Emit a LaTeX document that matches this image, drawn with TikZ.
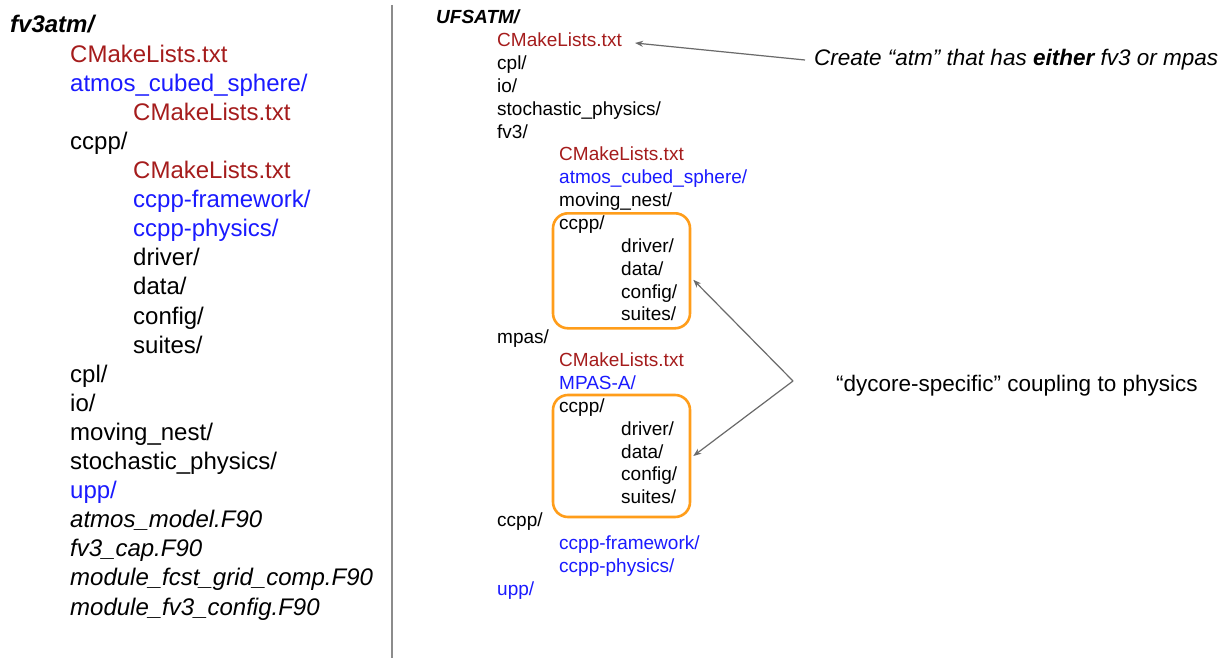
\documentclass[tikz,border=0pt]{standalone}
\usepackage{fontspec}
\setmainfont{Liberation Sans}
\usetikzlibrary{arrows.meta}
\definecolor{dred}{HTML}{A51C1C}
\definecolor{fblue}{HTML}{1A1AFF}
\definecolor{orng}{HTML}{FF9D1A}
\definecolor{arrgray}{HTML}{6A6A6A}
\definecolor{sepgray}{HTML}{8C8C8C}
\begin{document}
\begin{tikzpicture}[x=1pt,y=-1pt,
  big/.style={anchor=base west, inner sep=0pt, font=\fontsize{24}{29}\selectfont},
  sm/.style={anchor=base west, inner sep=0pt, font=\fontsize{19}{23}\selectfont},
  ann/.style={anchor=base west, inner sep=0pt, font=\fontsize{22.5}{27}\selectfont},
  redtxt/.style={text=dred},
  bluetxt/.style={text=fblue},
  obox/.style={draw=orng, line width=2.6pt, rounded corners=15pt, inner sep=0pt},
  arr/.style={draw=arrgray, line width=1.2pt, -{Stealth[length=8pt,width=6pt]}}]
\fill[white] (0,0) rectangle (1220,658);
\useasboundingbox (0,0) rectangle (1220,658);
% separator
\draw[sepgray, line width=1.3pt] (392,5) -- (392,658);
% ---------- left column ----------
\node[big, font=\fontsize{24}{29}\selectfont\bfseries\itshape] (L0) at (10,33.0) {fv3atm/};
\node[big, redtxt]  (L1) at (70,62.1) {CMakeLists.txt};
\node[big, bluetxt] (L2) at (70,91.2) {atmos\_cubed\_sphere/};
\node[big, redtxt]  (L3) at (133,120.3) {CMakeLists.txt};
\node[big]      (L4) at (70,149.4) {ccpp/};
\node[big, redtxt]  (L5) at (133,178.5) {CMakeLists.txt};
\node[big, bluetxt] (L6) at (133,207.6) {ccpp-framework/};
\node[big, bluetxt] (L7) at (133,236.7) {ccpp-physics/};
\node[big]      (L8) at (133,265.8) {driver/};
\node[big]      (L9) at (133,294.9) {data/};
\node[big]      (L10) at (133,324.0) {config/};
\node[big]      (L11) at (133,353.1) {suites/};
\node[big]      (L12) at (70,382.2) {cpl/};
\node[big]      (L13) at (70,411.3) {io/};
\node[big]      (L14) at (70,440.4) {moving\_nest/};
\node[big]      (L15) at (70,469.5) {stochastic\_physics/};
\node[big, bluetxt] (L16) at (70,498.6) {upp/};
\node[big, font=\fontsize{24}{29}\selectfont\itshape] (L17) at (70,527.7) {atmos\_model.F90};
\node[big, font=\fontsize{24}{29}\selectfont\itshape] (L18) at (70,556.8) {fv3\_cap.F90};
\node[big, font=\fontsize{24}{29}\selectfont\itshape] (L19) at (70,585.9) {module\_fcst\_grid\_comp.F90};
\node[big, font=\fontsize{24}{29}\selectfont\itshape] (L20) at (70,615.0) {module\_fv3\_config.F90};
% ---------- right column ----------
\node[sm, font=\fontsize{19}{23}\selectfont\bfseries\itshape] (R0) at (436,23.85) {UFSATM/};
\node[sm, redtxt]  (R1) at (497,46.7) {CMakeLists.txt};
\node[sm]      (R2) at (497,69.55) {cpl/};
\node[sm]      (R3) at (497,92.4) {io/};
\node[sm]      (R4) at (497,115.25) {stochastic\_physics/};
\node[sm]      (R5) at (497,138.1) {fv3/};
\node[sm, redtxt]  (R6) at (559,160.95) {CMakeLists.txt};
\node[sm, bluetxt] (R7) at (559,183.8) {atmos\_cubed\_sphere/};
\node[sm]      (R8) at (559,206.65) {moving\_nest/};
\node[sm]      (R9) at (559,229.5) {ccpp/};
\node[sm]      (R10) at (621,252.35) {driver/};
\node[sm]      (R11) at (621,275.2) {data/};
\node[sm]      (R12) at (621,298.05) {config/};
\node[sm]      (R13) at (621,320.9) {suites/};
\node[sm]      (R14) at (497,343.75) {mpas/};
\node[sm, redtxt]  (R15) at (559,366.6) {CMakeLists.txt};
\node[sm, bluetxt] (R16) at (559,389.45) {MPAS-A/};
\node[sm]      (R17) at (559,412.3) {ccpp/};
\node[sm]      (R18) at (621,435.15) {driver/};
\node[sm]      (R19) at (621,458.0) {data/};
\node[sm]      (R20) at (621,480.85) {config/};
\node[sm]      (R21) at (621,503.7) {suites/};
\node[sm]      (R22) at (497,526.55) {ccpp/};
\node[sm, bluetxt] (R23) at (559,549.4) {ccpp-framework/};
\node[sm, bluetxt] (R24) at (559,572.25) {ccpp-physics/};
\node[sm, bluetxt] (R25) at (497,595.1) {upp/};
% orange boxes
\node[obox, minimum width=137pt, minimum height=115pt] (box1) at (621.5,270.8) {};
\node[obox, minimum width=137pt, minimum height=122pt] (box2) at (621.5,456) {};
% annotations
\node[ann, font=\fontsize{22.5}{27}\selectfont\itshape] (A1) at (814,66) {Create “atm” that has \textbf{either} fv3 or mpas};
\node[ann] (A2) at (836,391) {“dycore-specific” coupling to physics};
\coordinate (t0) at (635,43);
\coordinate (s0) at (805,60);
\coordinate (v) at (793,381);
\draw[arr] (s0) -- (t0);
\draw[arr] (v) -- ([xshift=2pt,yshift=-9pt]box1.east);
\draw[arr] (v) -- ([xshift=2pt]box2.east);
\end{tikzpicture}
\end{document}
